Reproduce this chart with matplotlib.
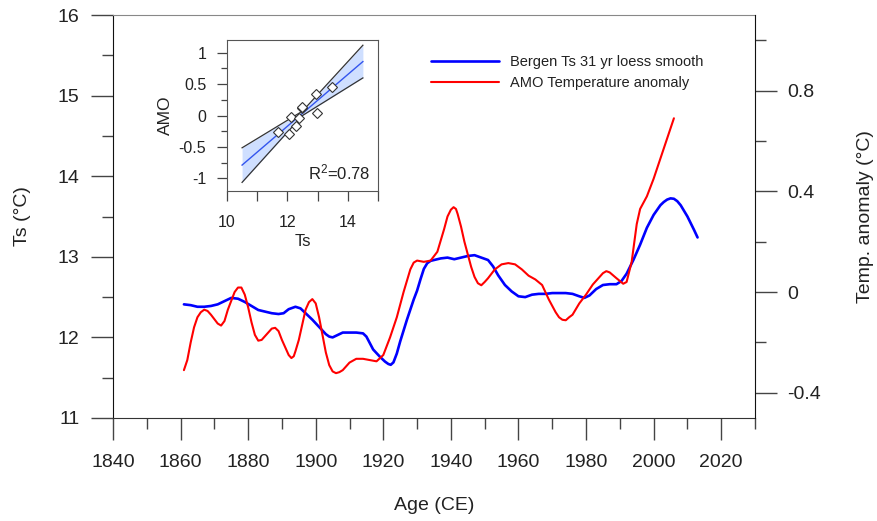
import numpy as np
import matplotlib
matplotlib.use("Agg")
import matplotlib.pyplot as plt
from matplotlib.ticker import MultipleLocator, FixedLocator, FuncFormatter

plt.rcParams['font.family'] = ['Liberation Sans', 'DejaVu Sans']
plt.rcParams['axes.unicode_minus'] = False
plt.rcParams['mathtext.default'] = 'regular'

# Bergen surface temperature, 31 yr loess smooth (deg C)
bergen_years = [1861, 1863, 1865, 1867, 1869, 1871, 1873, 1875, 1877, 1879,
                1881, 1883, 1885, 1887, 1889, 1890.5, 1892, 1894, 1895.5, 1897,
                1899, 1901, 1903, 1904, 1905, 1906, 1908, 1910, 1912, 1914,
                1915, 1916, 1917, 1919, 1920.5, 1921.5, 1922.2, 1923, 1924, 1925,
                1927, 1929, 1930, 1931, 1932, 1933, 1934, 1935, 1937, 1939,
                1941, 1943, 1945, 1947, 1949, 1951, 1952.5, 1954, 1956, 1958,
                1960, 1962, 1964, 1966, 1968, 1970, 1972, 1974, 1976, 1978,
                1979.5, 1981, 1983, 1985, 1987, 1989, 1990.5, 1992, 1994, 1996,
                1998, 2000, 2002, 2003, 2004, 2005, 2006, 2007, 2008, 2010,
                2012, 2013]
bergen_ts = [12.41, 12.40, 12.38, 12.38, 12.39, 12.41, 12.45, 12.49, 12.48, 12.44,
             12.39, 12.34, 12.32, 12.30, 12.29, 12.30, 12.35, 12.38, 12.36, 12.30,
             12.22, 12.13, 12.04, 12.01, 12.00, 12.02, 12.06, 12.06, 12.06, 12.05,
             12.01, 11.93, 11.85, 11.76, 11.70, 11.67, 11.66, 11.69, 11.80, 11.95,
             12.22, 12.47, 12.58, 12.72, 12.85, 12.92, 12.95, 12.96, 12.98, 12.99,
             12.97, 12.99, 13.01, 13.02, 12.99, 12.96, 12.88, 12.77, 12.65, 12.57,
             12.51, 12.50, 12.53, 12.54, 12.54, 12.55, 12.55, 12.55, 12.54, 12.51,
             12.49, 12.52, 12.60, 12.65, 12.66, 12.66, 12.70, 12.79, 12.96, 13.15,
             13.36, 13.52, 13.64, 13.68, 13.71, 13.725, 13.72, 13.69, 13.64, 13.50,
             13.33, 13.24]

# AMO temperature anomaly (deg C)
amo_years = [1861, 1862, 1863, 1864, 1865, 1866, 1867, 1868, 1869, 1871,
             1872, 1873, 1874, 1875, 1876, 1877, 1878, 1879, 1880, 1881,
             1882, 1883, 1884, 1886, 1887, 1888, 1889, 1890, 1892, 1892.8,
             1893.5, 1894, 1895, 1897, 1898, 1899, 1900, 1901, 1902, 1903,
             1904, 1905, 1906, 1907, 1908, 1910, 1912, 1914, 1916, 1918,
             1920, 1922, 1924, 1926, 1928, 1929, 1930, 1932, 1934, 1936,
             1938, 1939, 1940, 1940.8, 1941.5, 1942, 1943, 1944, 1946, 1947,
             1948, 1949, 1950, 1951, 1953, 1955, 1957, 1959, 1961, 1963,
             1965, 1967, 1969, 1971, 1972, 1973, 1974, 1975, 1976, 1978,
             1980, 1982, 1984, 1985, 1986, 1987, 1989, 1991, 1992, 1993.5,
             1995, 1996, 1998, 2000, 2002, 2004, 2006]
amo_anom = [-0.31, -0.27, -0.20, -0.14, -0.10, -0.08, -0.07, -0.075, -0.09, -0.125,
            -0.133, -0.115, -0.07, -0.035, 0.00, 0.018, 0.018, -0.01, -0.06, -0.12,
            -0.17, -0.193, -0.19, -0.16, -0.145, -0.142, -0.155, -0.19, -0.25, -0.262,
            -0.255, -0.235, -0.19, -0.07, -0.04, -0.028, -0.045, -0.10, -0.17, -0.24,
            -0.29, -0.315, -0.322, -0.318, -0.31, -0.28, -0.265, -0.265, -0.27, -0.275,
            -0.25, -0.18, -0.10, 0.00, 0.09, 0.117, 0.125, 0.12, 0.125, 0.16,
            0.25, 0.30, 0.327, 0.337, 0.33, 0.31, 0.26, 0.20, 0.10, 0.06,
            0.035, 0.027, 0.04, 0.055, 0.09, 0.11, 0.115, 0.11, 0.09, 0.065,
            0.05, 0.028, -0.03, -0.08, -0.10, -0.11, -0.112, -0.10, -0.09, -0.045,
            -0.01, 0.03, 0.06, 0.075, 0.083, 0.078, 0.055, 0.033, 0.04, 0.12,
            0.27, 0.33, 0.38, 0.45, 0.53, 0.61, 0.69]

# Regression of AMO on Bergen Ts
scatter_ts = [11.68, 12.05, 12.12, 12.28, 12.40, 12.47, 12.50, 12.95, 12.97, 13.47]
scatter_amo = [-0.26, -0.29, -0.03, -0.17, -0.04, 0.12, 0.14, 0.34, 0.04, 0.45]
band_x = [10.5, 12.5, 14.5]
band_halfwidth = [0.275, 0.035, 0.26]
r2_label = 'R$^{2}$=0.78'

TXT = '#222222'
TICK = '#444444'

fig = plt.figure(figsize=(8.77, 5.21), dpi=100)
ax = fig.add_axes([0.1288, 0.1977, 0.7321, 0.7735])
ax2 = ax.twinx()

ax.plot(bergen_years, bergen_ts, color='#0000ff', lw=1.9, solid_capstyle='round',
        solid_joinstyle='round', label='Bergen Ts 31 yr loess smooth', zorder=3)
ax2.plot(amo_years, amo_anom, color='#ff0000', lw=1.5, solid_capstyle='round',
         solid_joinstyle='round', label='AMO Temperature anomaly', zorder=2)

ax.set_xlim(1840, 2030)
ax.set_ylim(11, 16)
ax2.set_ylim(-0.5, 1.1)

ax.xaxis.set_major_locator(MultipleLocator(20))
ax.xaxis.set_minor_locator(MultipleLocator(10))
ax.yaxis.set_major_locator(MultipleLocator(1))
ax.yaxis.set_minor_locator(MultipleLocator(0.5))
ax2.yaxis.set_major_locator(FixedLocator([-0.4, 0, 0.4, 0.8]))
ax2.yaxis.set_minor_locator(FixedLocator([-0.2, 0.2, 0.6, 1.0]))
fmt = FuncFormatter(lambda v, p: f'{v:g}')
ax2.yaxis.set_major_formatter(fmt)

for a in (ax, ax2):
    a.tick_params(which='major', direction='out', length=16, width=1.0,
                  color=TICK, labelcolor=TXT, labelsize=14, pad=7)
    a.tick_params(which='minor', direction='out', length=8, width=1.0, color=TICK)
ax.tick_params(axis='y', pad=8)
ax2.tick_params(axis='y', pad=7)
ax.tick_params(axis='x', pad=10)

ax.spines['left'].set_color('#111111')
ax.spines['bottom'].set_color('#333333')
ax.spines['top'].set_color('#888888')
ax.spines['right'].set_visible(False)
ax2.spines['right'].set_color('#111111')
for s in ('left', 'top', 'bottom'):
    ax2.spines[s].set_visible(False)

ax.set_xlabel('Age (CE)', fontsize=14, color=TXT, labelpad=19)
ax.set_ylabel('Ts (°C)', fontsize=14, color=TXT, labelpad=19)
ax2.set_ylabel('Temp. anomaly (°C)', fontsize=14, color=TXT, labelpad=26)

h1, l1 = ax.get_legend_handles_labels()
h2, l2 = ax2.get_legend_handles_labels()
fig.legend(h1 + h2, l1 + l2, loc='upper left', bbox_to_anchor=(0.4914, 0.894),
           frameon=False, fontsize=10.5, handlelength=4.7, handletextpad=0.75,
           labelspacing=0.45, borderpad=0, borderaxespad=0, labelcolor=TXT)

# Inset: regression of AMO against Ts
ins = fig.add_axes([0.2588, 0.6334, 0.1722, 0.2898])
ins.set_zorder(5)
coef = np.polyfit(scatter_ts, scatter_amo, 1)
fit = np.polyval(coef, band_x)
hw = np.array(band_halfwidth)
ins.fill_between(band_x, fit - hw, fit + hw, color='#cfdfff', lw=0, zorder=1)
ins.plot(band_x, fit + hw, color='#333333', lw=0.9, zorder=2)
ins.plot(band_x, fit - hw, color='#333333', lw=0.9, zorder=2)
ins.plot(band_x, fit, color='#3355ee', lw=1.0, zorder=3)
ins.plot(scatter_ts, scatter_amo, 'D', ms=4.8, mfc='white', mec='#333333',
         mew=0.8, ls='none', zorder=4)
ins.set_xlim(10, 15)
ins.set_ylim(-1.2, 1.2)
ins.xaxis.set_major_locator(FixedLocator([10, 12, 14]))
ins.xaxis.set_minor_locator(FixedLocator([11, 13, 15]))
ins.yaxis.set_major_locator(MultipleLocator(0.5))
ins.yaxis.set_minor_locator(MultipleLocator(0.25))
ins.yaxis.set_major_formatter(fmt)
ins.tick_params(which='major', direction='out', length=7, width=0.9, color=TICK,
                labelcolor=TXT, labelsize=11.5, pad=8)
ins.tick_params(axis='x', which='minor', direction='out', length=7, width=0.9, color=TICK)
ins.tick_params(axis='y', which='minor', direction='out', length=4.5, width=0.9, color=TICK)
ins.tick_params(axis='x', pad=10)
for s in ins.spines.values():
    s.set_color('#555555')
ins.set_xlabel('Ts', fontsize=12, color=TXT, labelpad=3)
ins.set_ylabel('AMO', fontsize=12.5, color=TXT, labelpad=4)
ins.text(0.947, 0.08, r2_label, transform=ins.transAxes, ha='right', va='baseline',
         fontsize=12, color=TXT)

fig.savefig('out.png', dpi=100)
